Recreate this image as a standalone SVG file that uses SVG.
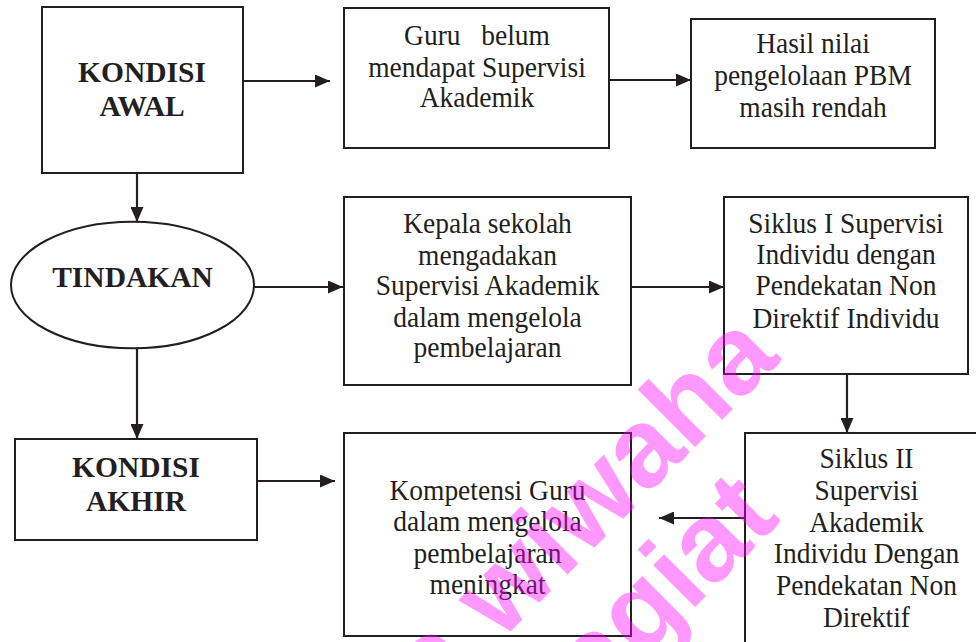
<svg xmlns="http://www.w3.org/2000/svg" width="976" height="642" viewBox="0 0 976 642">
<defs>
<style>
.box{fill:#fff;stroke:#231f20;stroke-width:2}
.t{font-family:"Liberation Serif","Times New Roman",serif;font-size:27.5px;fill:#231f20;text-anchor:middle;white-space:pre}
.b{font-family:"Liberation Serif","Times New Roman",serif;font-size:29.5px;font-weight:bold;fill:#231f20;text-anchor:middle}
.c{fill:none;stroke:#231f20;stroke-width:2.2}
.wm{font-family:"Liberation Sans",Arial,sans-serif;font-weight:bold;font-size:112px;fill:#ff00ff;fill-opacity:0.4;text-anchor:end}
</style>
<marker id="ah" markerUnits="userSpaceOnUse" markerWidth="15" markerHeight="13" refX="15" refY="6.5" orient="auto">
<path d="M0,0 L15,6.5 L0,13 Z" fill="#231f20"/>
</marker>
</defs>
<rect width="976" height="642" fill="#fff"/>

<g id="kondisi-awal">
<rect class="box" x="42" y="7" width="201" height="166"/>
<text class="b" x="142" y="82">KONDISI</text>
<text class="b" x="142" y="116">AWAL</text>
</g>

<g id="guru-belum">
<rect class="box" x="344" y="8" width="265" height="140"/>
<text class="t" transform="translate(477,45) scale(1,1.1)"><tspan x="0" y="0">Guru   belum</tspan><tspan x="0" y="29.4">mendapat Supervisi</tspan><tspan x="0" y="56.6">Akademik</tspan></text>
</g>

<g id="hasil-nilai">
<rect class="box" x="691" y="19" width="244" height="129"/>
<text class="t" transform="translate(813,53.3) scale(1,1.1)"><tspan x="0" y="0">Hasil nilai</tspan><tspan x="0" y="28.8">pengelolaan PBM</tspan><tspan x="0" y="57.6">masih rendah</tspan></text>
</g>

<g id="tindakan">
<ellipse class="box" cx="132.5" cy="285" rx="121.5" ry="63.3"/>
<text class="b" x="132.5" y="287.3">TINDAKAN</text>
</g>

<g id="kepala-sekolah">
<rect class="box" x="344" y="197" width="287" height="188"/>
<text class="t" transform="translate(487.5,233.3) scale(1,1.1)"><tspan x="0" y="0">Kepala sekolah</tspan><tspan x="0" y="28.8">mengadakan</tspan><tspan x="0" y="56.1">Supervisi Akademik</tspan><tspan x="0" y="84.8">dalam mengelola</tspan><tspan x="0" y="112.1">pembelajaran</tspan></text>
</g>

<g id="siklus-1">
<rect class="box" x="724" y="197" width="244" height="177"/>
<text class="t" transform="translate(846,233.3) scale(1,1.1)"><tspan x="0" y="0">Siklus I Supervisi</tspan><tspan x="0" y="28.2">Individu dengan</tspan><tspan x="0" y="56.1">Pendekatan Non</tspan><tspan x="0" y="85.8">Direktif Individu</tspan></text>
</g>

<g id="kondisi-akhir">
<rect class="box" x="15" y="439" width="242" height="101"/>
<text class="b" x="136" y="476.7">KONDISI</text>
<text class="b" x="136" y="511">AKHIR</text>
</g>

<g id="kompetensi">
<rect class="box" x="344" y="433" width="287" height="203"/>
<text class="t" transform="translate(487.5,500) scale(1,1.1)"><tspan x="0" y="0">Kompetensi Guru</tspan><tspan x="0" y="28.2">dalam mengelola</tspan><tspan x="0" y="57">pembelajaran</tspan><tspan x="0" y="85.7">meningkat</tspan></text>
</g>

<g id="siklus-2">
<rect class="box" x="745" y="433" width="245" height="230"/>
<text class="t" transform="translate(866.5,468.3) scale(1,1.1)"><tspan x="0" y="0">Siklus II</tspan><tspan x="0" y="28.8">Supervisi</tspan><tspan x="0" y="57.6">Akademik</tspan><tspan x="0" y="86.4">Individu Dengan</tspan><tspan x="0" y="115.2">Pendekatan Non</tspan><tspan x="0" y="144">Direktif</tspan></text>
</g>

<g id="connectors">
<line class="c" x1="243" y1="81" x2="330" y2="81" marker-end="url(#ah)"/>
<line class="c" x1="609" y1="80" x2="691" y2="80" marker-end="url(#ah)"/>
<line class="c" x1="137" y1="173" x2="137" y2="222" marker-end="url(#ah)"/>
<line class="c" x1="254" y1="287" x2="343" y2="287" marker-end="url(#ah)"/>
<line class="c" x1="631" y1="287" x2="724" y2="287" marker-end="url(#ah)"/>
<line class="c" x1="847" y1="374" x2="847" y2="433" marker-end="url(#ah)"/>
<line class="c" x1="137" y1="348" x2="137" y2="439" marker-end="url(#ah)"/>
<line class="c" x1="257" y1="481" x2="335" y2="481" marker-end="url(#ah)"/>
<line class="c" x1="745" y1="518" x2="659" y2="518" marker-end="url(#ah)"/>
</g>

<g id="watermark">
<text class="wm" transform="translate(782,360) rotate(-45)">a wiwaha</text>
<text class="wm" transform="translate(782,520) rotate(-45)">plagiat</text>
</g>
</svg>
